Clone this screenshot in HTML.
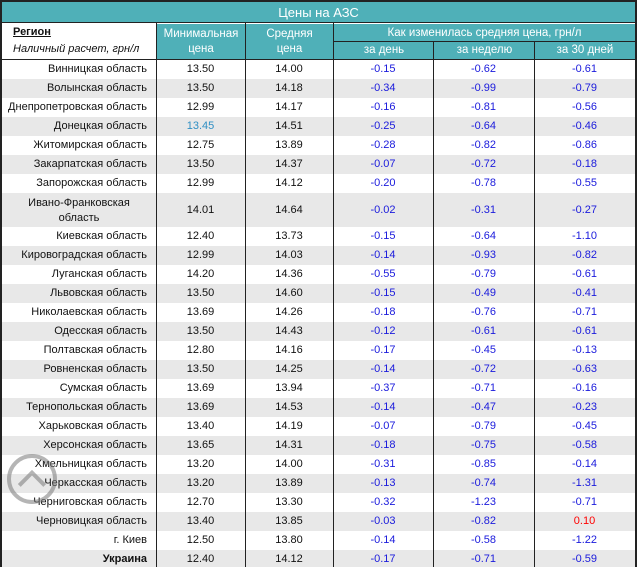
<!DOCTYPE html>
<html><head><meta charset="utf-8"><style>
*{margin:0;padding:0;box-sizing:border-box}
body{width:637px;height:567px;overflow:hidden;background:#fff;font-family:"Liberation Sans",Arial,sans-serif;font-size:11px;color:#111}
#w{position:absolute;left:0;top:0;width:637px;height:567px;border:2px solid #222;border-bottom:none;overflow:hidden}
.title{position:absolute;left:0;top:0;width:633px;height:21px;background:#4fb0b8;color:#fff;text-align:center;font-size:13px;line-height:21px;border-bottom:1px solid #222}
.h{position:absolute;background:#4fb0b8;color:#fff;text-align:center;font-size:11.5px;line-height:15px}
.row{position:absolute;left:0;width:633px;height:19px;line-height:19px}
.row.g{background:#e8e8e8}
.row div{position:absolute;top:0;height:100%;text-align:center}
.c0{left:0;width:145px;text-align:right!important}
.c1{left:154px;width:89px}.c2{left:243px;width:88px}
.c3{left:331px;width:100px;color:#1a1adc}.c4{left:431px;width:101px;color:#1a1adc}.c5{left:532px;width:101px;color:#1a1adc}
.v{position:absolute;top:21px;bottom:0;width:1px;background:#222}
</style></head><body><div id="w">
<div class="title">Цены на АЗС</div>
<div style="position:absolute;left:11px;top:24px;font-weight:bold;text-decoration:underline;font-size:11px">Регион</div>
<div style="position:absolute;left:11px;top:41px;font-style:italic;font-size:11px">Наличный расчет, грн/л</div>
<div class="h" style="left:155px;top:22px;width:88px;height:35px;padding-top:3px">Минимальная<br>цена</div>
<div class="h" style="left:244px;top:22px;width:87px;height:35px;padding-top:3px">Средняя<br>цена</div>
<div class="h" style="left:332px;top:22px;width:301px;height:18px;line-height:18px;border-bottom:1px solid #222">Как изменилась средняя цена, грн/л</div>
<div class="h" style="left:332px;top:40px;width:100px;height:17px;line-height:17px">за день</div>
<div class="h" style="left:432px;top:40px;width:101px;height:17px;line-height:17px">за неделю</div>
<div class="h" style="left:533px;top:40px;width:100px;height:17px;line-height:17px">за 30 дней</div>
<div style="position:absolute;left:0;top:57px;width:633px;height:1px;background:#222"></div>

<div class="row" style="top:58px"><div class="c0">Винницкая область</div><div class="c1">13.50</div><div class="c2">14.00</div><div class="c3">-0.15</div><div class="c4">-0.62</div><div class="c5">-0.61</div></div>
<div class="row g" style="top:77px"><div class="c0">Волынская область</div><div class="c1">13.50</div><div class="c2">14.18</div><div class="c3">-0.34</div><div class="c4">-0.99</div><div class="c5">-0.79</div></div>
<div class="row" style="top:96px"><div class="c0">Днепропетровская область</div><div class="c1">12.99</div><div class="c2">14.17</div><div class="c3">-0.16</div><div class="c4">-0.81</div><div class="c5">-0.56</div></div>
<div class="row g" style="top:115px"><div class="c0">Донецкая область</div><div class="c1" style="color:#2f8fc4">13.45</div><div class="c2">14.51</div><div class="c3">-0.25</div><div class="c4">-0.64</div><div class="c5">-0.46</div></div>
<div class="row" style="top:134px"><div class="c0">Житомирская область</div><div class="c1">12.75</div><div class="c2">13.89</div><div class="c3">-0.28</div><div class="c4">-0.82</div><div class="c5">-0.86</div></div>
<div class="row g" style="top:153px"><div class="c0">Закарпатская область</div><div class="c1">13.50</div><div class="c2">14.37</div><div class="c3">-0.07</div><div class="c4">-0.72</div><div class="c5">-0.18</div></div>
<div class="row" style="top:172px"><div class="c0">Запорожская область</div><div class="c1">12.99</div><div class="c2">14.12</div><div class="c3">-0.20</div><div class="c4">-0.78</div><div class="c5">-0.55</div></div>
<div class="row g" style="top:191px;height:34px;line-height:34px"><div class="c0" style="line-height:15px;padding-top:3px;text-align:center!important;width:154px">Ивано-Франковская<br>область</div><div class="c1">14.01</div><div class="c2">14.64</div><div class="c3">-0.02</div><div class="c4">-0.31</div><div class="c5">-0.27</div></div>
<div class="row" style="top:225px"><div class="c0">Киевская область</div><div class="c1">12.40</div><div class="c2">13.73</div><div class="c3">-0.15</div><div class="c4">-0.64</div><div class="c5">-1.10</div></div>
<div class="row g" style="top:244px"><div class="c0">Кировоградская область</div><div class="c1">12.99</div><div class="c2">14.03</div><div class="c3">-0.14</div><div class="c4">-0.93</div><div class="c5">-0.82</div></div>
<div class="row" style="top:263px"><div class="c0">Луганская область</div><div class="c1">14.20</div><div class="c2">14.36</div><div class="c3">-0.55</div><div class="c4">-0.79</div><div class="c5">-0.61</div></div>
<div class="row g" style="top:282px"><div class="c0">Львовская область</div><div class="c1">13.50</div><div class="c2">14.60</div><div class="c3">-0.15</div><div class="c4">-0.49</div><div class="c5">-0.41</div></div>
<div class="row" style="top:301px"><div class="c0">Николаевская область</div><div class="c1">13.69</div><div class="c2">14.26</div><div class="c3">-0.18</div><div class="c4">-0.76</div><div class="c5">-0.71</div></div>
<div class="row g" style="top:320px"><div class="c0">Одесская область</div><div class="c1">13.50</div><div class="c2">14.43</div><div class="c3">-0.12</div><div class="c4">-0.61</div><div class="c5">-0.61</div></div>
<div class="row" style="top:339px"><div class="c0">Полтавская область</div><div class="c1">12.80</div><div class="c2">14.16</div><div class="c3">-0.17</div><div class="c4">-0.45</div><div class="c5">-0.13</div></div>
<div class="row g" style="top:358px"><div class="c0">Ровненская область</div><div class="c1">13.50</div><div class="c2">14.25</div><div class="c3">-0.14</div><div class="c4">-0.72</div><div class="c5">-0.63</div></div>
<div class="row" style="top:377px"><div class="c0">Сумская область</div><div class="c1">13.69</div><div class="c2">13.94</div><div class="c3">-0.37</div><div class="c4">-0.71</div><div class="c5">-0.16</div></div>
<div class="row g" style="top:396px"><div class="c0">Тернопольская область</div><div class="c1">13.69</div><div class="c2">14.53</div><div class="c3">-0.14</div><div class="c4">-0.47</div><div class="c5">-0.23</div></div>
<div class="row" style="top:415px"><div class="c0">Харьковская область</div><div class="c1">13.40</div><div class="c2">14.19</div><div class="c3">-0.07</div><div class="c4">-0.79</div><div class="c5">-0.45</div></div>
<div class="row g" style="top:434px"><div class="c0">Херсонская область</div><div class="c1">13.65</div><div class="c2">14.31</div><div class="c3">-0.18</div><div class="c4">-0.75</div><div class="c5">-0.58</div></div>
<div class="row" style="top:453px"><div class="c0">Хмельницкая область</div><div class="c1">13.20</div><div class="c2">14.00</div><div class="c3">-0.31</div><div class="c4">-0.85</div><div class="c5">-0.14</div></div>
<div class="row g" style="top:472px"><div class="c0">Черкасская область</div><div class="c1">13.20</div><div class="c2">13.89</div><div class="c3">-0.13</div><div class="c4">-0.74</div><div class="c5">-1.31</div></div>
<div class="row" style="top:491px"><div class="c0">Черниговская область</div><div class="c1">12.70</div><div class="c2">13.30</div><div class="c3">-0.32</div><div class="c4">-1.23</div><div class="c5">-0.71</div></div>
<div class="row g" style="top:510px"><div class="c0">Черновицкая область</div><div class="c1">13.40</div><div class="c2">13.85</div><div class="c3">-0.03</div><div class="c4">-0.82</div><div class="c5" style="color:#f00">0.10</div></div>
<div class="row" style="top:529px"><div class="c0">г. Киев</div><div class="c1">12.50</div><div class="c2">13.80</div><div class="c3">-0.14</div><div class="c4">-0.58</div><div class="c5">-1.22</div></div>
<div class="row g" style="top:548px"><div class="c0" style="font-weight:bold">Украина</div><div class="c1">12.40</div><div class="c2">14.12</div><div class="c3">-0.17</div><div class="c4">-0.71</div><div class="c5">-0.59</div></div>

<div class="v" style="left:154px"></div>
<div class="v" style="left:243px"></div>
<div class="v" style="left:331px"></div>
<div class="v" style="left:431px;top:40px"></div>
<div class="v" style="left:532px;top:40px"></div>
<div style="position:absolute;left:5px;top:452px;width:50px;height:50px;border:4px solid rgba(120,120,120,0.55);border-radius:50%"></div>
<div style="position:absolute;left:20px;top:472px;width:20px;height:20px;border-left:4px solid rgba(120,120,120,0.55);border-top:4px solid rgba(120,120,120,0.55);transform:rotate(45deg)"></div>
</div></body></html>
